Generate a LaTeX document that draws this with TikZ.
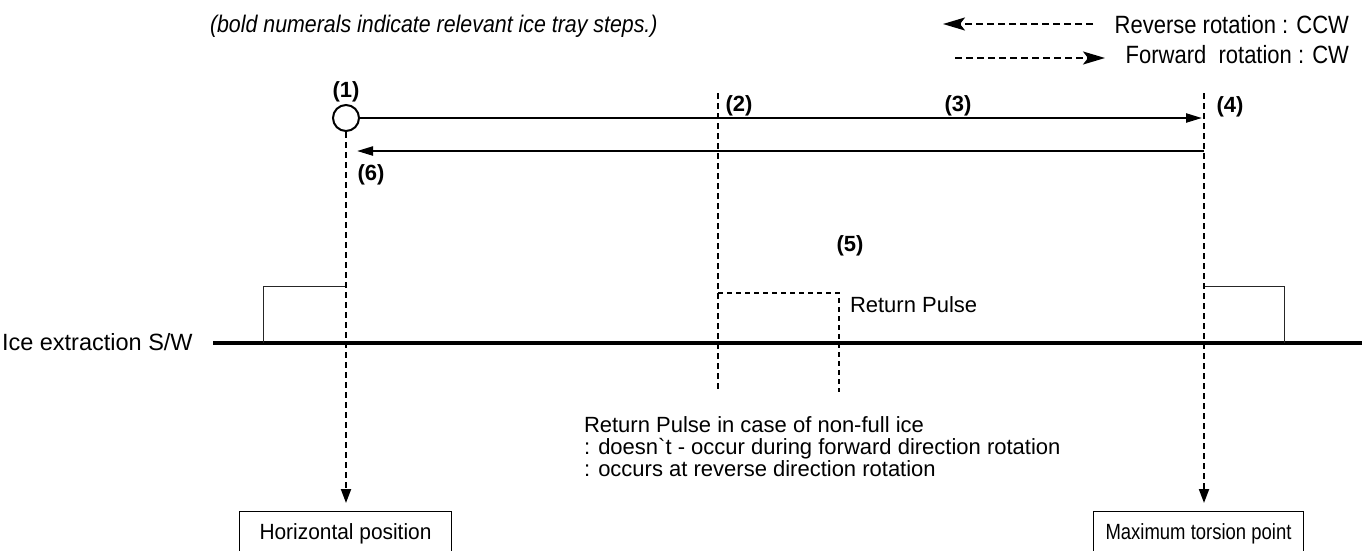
\documentclass[tikz,border=0pt]{standalone}
\usepackage{fontspec}
\setmainfont{Liberation Sans}
\newfontfamily\rawfont{Liberation Sans}[Ligatures=TeXOff]
\usetikzlibrary{arrows.meta}
\newcommand{\SX}[3]{\scalebox{#2}[1]{\fontsize{#1}{#1}\selectfont #3}}
\begin{document}
\begin{tikzpicture}[x=1pt,y=-1pt,
  txt/.style={inner sep=0pt, outer sep=0pt},
  lbl/.style={inner sep=0pt, anchor=base},
  mainarrow/.style={line width=2.2pt, -{Triangle[length=16pt,width=9pt]}},
  vdash/.style={line width=2pt, dash pattern=on 6pt off 4pt, -{Triangle[length=14pt,width=10pt]}, shorten >=8pt},
  vdashplain/.style={line width=2pt, dash pattern=on 6pt off 4pt},
  legarrow/.style={line width=2pt, dash pattern=on 7pt off 4pt, -{Stealth[length=22pt,width=13pt,inset=5pt]}},
  pulse/.style={line width=1pt, draw=black!85},
  rpulse/.style={line width=1.5pt, dash pattern=on 5pt off 4pt},
  boxnode/.style={draw, line width=1pt, inner sep=0pt, minimum height=44pt, anchor=north west}
]
\useasboundingbox (0,0) rectangle (1362,550);

% title and legend
\node[txt, anchor=base west] (title) at (210,32) {\SX{24}{0.89}{\itshape (bold numerals indicate relevant ice tray steps.)}};
\node[txt, anchor=base east] (revtxt) at (1349,33) {\SX{25}{0.88}{Reverse rotation : CCW}};
\node[txt, anchor=base east] (fwdtxt) at (1349,63) {\SX{25}{0.88}{Forward\ \ rotation : CW}};
\coordinate (revA) at (1093,24);
\coordinate (revB) at (943,24);
\coordinate (fwdA) at (955,58);
\coordinate (fwdB) at (1105,58);
\draw[legarrow] (revA) -- (revB);
\draw[legarrow] (fwdA) -- (fwdB);

% switch baseline and pulses
\node[txt, anchor=base west] (swlbl) at (2,350) {\SX{23.5}{1}{Ice extraction S/W}};
\coordinate (bl0) at (213,343);
\coordinate (bl1) at (1362,343);
\draw[line width=4pt] (bl0) -- (bl1);
\coordinate (pl0) at (263,343);
\coordinate (pl1) at (346,286);
\draw[pulse] (pl0) |- (pl1);
\coordinate (pr0) at (1204,286);
\coordinate (pr1) at (1284,343);
\draw[pulse] (pr0) -| (pr1);

% boxes
\node[boxnode, minimum width=212pt] (hp) at (239,511) {\SX{22}{0.95}{Horizontal position}};
\node[boxnode, minimum width=210pt, anchor=north east] (mt) at (1304,511) {\SX{22}{0.84}{Maximum torsion point}};

% position (1)
\node[circle, draw, line width=2pt, minimum size=26pt, inner sep=0pt] (c1) at (346,118) {};
\node[lbl] (n1) at (346,97) {\SX{22}{1}{\bfseries (1)}};
\draw[vdash] (c1.south) -- (c1.south |- hp.north);

% position (4)
\coordinate (t4) at (1204,93);
\draw[vdash] (t4) -- (t4 |- mt.north);
\node[lbl] (n4) at (1230,112) {\SX{22}{1}{\bfseries (4)}};

% position (2)
\coordinate (t2) at (718,93);
\coordinate (b2) at (718,392);
\draw[vdashplain] (t2) -- (b2);
\node[lbl] (n2) at (739,111) {\SX{22}{1}{\bfseries (2)}};
\node[lbl] (n3) at (958,111) {\SX{22}{1}{\bfseries (3)}};

% main arrows
\coordinate (f4) at (1202,118);
\draw[mainarrow] (c1.east) -- (f4);
\coordinate (r4) at (1204,151);
\coordinate (r1) at (357,151);
\draw[mainarrow] (r4) -- (r1);
\node[lbl] (n6) at (371,180) {\SX{22}{1}{\bfseries (6)}};

% return pulse
\coordinate (rp0) at (718,293);
\coordinate (rp1) at (839,392);
\draw[rpulse] (rp0) -| (rp1);
\node[lbl] (n5) at (850,251) {\SX{22}{1}{\bfseries (5)}};
\node[txt, anchor=base west] (rplbl) at (850,312) {\SX{22}{1}{Return Pulse}};

% explanation
\node[txt, anchor=base west] (ex1) at (584,432) {\SX{22}{1}{Return Pulse in case of non-full ice}};
\node[txt, anchor=base west] (ex2) at (584,454) {\SX{22}{1}{: doesn{\rawfont `}t - occur during forward direction rotation}};
\node[txt, anchor=base west] (ex3) at (584,476) {\SX{22}{1}{: occurs at reverse direction rotation}};
\end{tikzpicture}
\end{document}
